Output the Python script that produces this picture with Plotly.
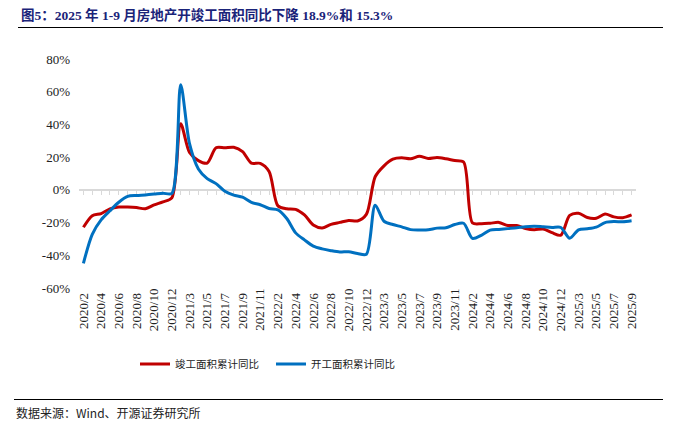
import plotly.graph_objects as go

# ---------------- data ----------------
years = [2020, 2021, 2022, 2023, 2024, 2025]
months_per_year = {2020: range(2, 13), 2021: range(2, 13), 2022: range(2, 13),
                   2023: range(2, 13), 2024: range(2, 13), 2025: range(2, 10)}
categories = [f"{y}/{m}" for y in years for m in months_per_year[y]]

completion_yoy = [  # 竣工面积累计同比 (%)
    -22.9, -15.8, -14.5, -11.6, -10.5, -10.5, -10.8, -11.6, -9.2, -7.3, -4.9,
    40.4, 22.9, 17.9, 16.4, 25.7, 25.7, 26.0, 23.4, 16.3, 16.2, 11.2,
    -9.8, -11.5, -11.9, -15.3, -21.5, -23.3, -21.1, -19.9, -18.7, -19.0, -15.0,
    8.0, 14.7, 18.8, 19.6, 19.0, 20.5, 19.2, 19.8, 19.0, 17.9, 17.0,
    -20.2, -20.7, -20.4, -19.9, -21.8, -21.8, -23.6, -24.4, -23.9, -26.2, -27.7,
    -15.6, -14.3, -16.9, -17.3, -14.8, -16.5, -17.0, -15.3,
]
start_yoy = [  # 开工面积累计同比 (%)
    -44.9, -27.2, -18.4, -12.8, -7.6, -4.0, -3.4, -3.1, -2.6, -2.0, -2.2,
    64.3, 28.2, 12.8, 6.9, 3.8, -0.9, -3.2, -4.5, -7.7, -9.1, -11.4,
    -12.2, -17.5, -26.3, -30.6, -34.4, -36.1, -37.2, -38.0, -37.8, -38.9, -39.4,
    -9.4, -19.2, -21.2, -22.6, -24.3, -24.5, -24.4, -23.4, -23.2, -21.2, -20.4,
    -29.7, -27.8, -24.6, -24.2, -23.7, -23.2, -22.5, -22.2, -22.6, -23.0, -23.0,
    -29.6, -24.4, -23.8, -22.8, -20.0, -19.4, -19.5, -18.9,
]
y_ticks = [-60, -40, -20, 0, 20, 40, 60, 80]

series_names = ["竣工面积累计同比", "开工面积累计同比"]
title_text = "图5：2025 年 1-9 月房地产开竣工面积同比下降 18.9%和 15.3%"
source_text = "数据来源：Wind、开源证券研究所"

# every second month is labelled; short labels get a small trailing space so
# the rotated labels look vertically centred like the original
tick_labels = []
for i, c in enumerate(categories):
    if i % 2:
        tick_labels.append("")
    else:
        tick_labels.append(c if len(c) >= 7 else c + "\u2004")

# ---------------- layout geometry ----------------
# The page body has an 8px margin, so the figure is drawn 8px in from the
# window corner; screen coordinates below are converted accordingly.
OFF = 8
W, H = 677 - 2 * OFF, 436 - 2 * OFF
SL, SR, ST, SB = 79, 636, 59, 288          # plot area in screen pixels
YMIN, YMAX = -60, 80


def px_x(px):
    return (px - SL) / (SR - SL)


def px_y(py):
    return (SB - py) / (SB - ST)


SERIF = "Liberation Serif, 'Noto Sans CJK SC', serif"
CJK = "'Noto Sans CJK SC', 'Liberation Serif', sans-serif"

fig = go.Figure()
fig.add_trace(go.Scatter(
    x=categories, y=completion_yoy, name=series_names[0], mode="lines",
    line=dict(color="#C00000", width=3, shape="spline", smoothing=0.8),
    xaxis="x", yaxis="y",
))
fig.add_trace(go.Scatter(
    x=categories, y=start_yoy, name=series_names[1], mode="lines",
    line=dict(color="#0070C0", width=3, shape="spline", smoothing=0.8),
    xaxis="x2", yaxis="y",
))

fig.update_layout(
    width=W, height=H,
    margin=dict(l=SL - OFF, r=W - (SR - OFF), t=ST - OFF, b=H - (SB - OFF), pad=0),
    paper_bgcolor="white", plot_bgcolor="white",
    showlegend=True,
    legend=dict(
        orientation="h", x=px_x(135), xanchor="left", y=px_y(364), yanchor="middle",
        font=dict(family=CJK, size=10.5, color="#222222"),
        bgcolor="rgba(0,0,0,0)", itemwidth=30, tracegroupgap=0,
        entrywidth=91, entrywidthmode="pixels",
    ),
    xaxis=dict(
        type="category", categoryarray=categories, range=[-0.5, len(categories) - 0.5],
        tickvals=categories, ticktext=tick_labels, tickangle=-90,
        tickfont=dict(family=SERIF, size=13, color="#222222"),
        showline=False, showgrid=False, zeroline=False, ticks="",
        ticklabelstandoff=-3, fixedrange=True,
    ),
    xaxis2=dict(
        type="category", categoryarray=categories, range=[-0.5, len(categories) - 0.5],
        overlaying="x", anchor="free", position=(0 - YMIN) / (YMAX - YMIN), side="bottom",
        showline=True, linecolor="#D9D9D9", linewidth=1.5,
        ticks="outside", ticklen=4, tickwidth=1, tickcolor="#D9D9D9",
        tickvals=categories, showticklabels=False,
        showgrid=False, zeroline=False, layer="below traces",
    ),
    yaxis=dict(
        range=[YMIN, YMAX], tickvals=y_ticks, ticktext=[f"{v}%" for v in y_ticks],
        tickfont=dict(family=SERIF, size=13, color="#222222"),
        showline=False, showgrid=False, zeroline=False, ticks="",
        ticklabelstandoff=8,
    ),
    title=dict(
        text=title_text, xref="container", yref="container",
        x=(21 - OFF) / W, xanchor="left", y=1 - (15 - OFF) / H, yanchor="middle",
        font=dict(family=SERIF, size=13.5, color="#1A2379", weight="bold"),
    ),
    shapes=[
        dict(type="line", xref="paper", yref="paper",
             x0=px_x(18), x1=px_x(663), y0=px_y(27.5), y1=px_y(27.5),
             line=dict(color="black", width=1.2)),
        dict(type="line", xref="paper", yref="paper",
             x0=px_x(14), x1=px_x(663), y0=px_y(399.5), y1=px_y(399.5),
             line=dict(color="black", width=1.2)),
    ],
    annotations=[
        dict(text=source_text, xref="paper", yref="paper",
             x=px_x(14), y=px_y(412), xanchor="left", yanchor="middle",
             showarrow=False, font=dict(family=CJK, size=12, color="#222222")),
    ],
)

fig.write_html("out.html")
